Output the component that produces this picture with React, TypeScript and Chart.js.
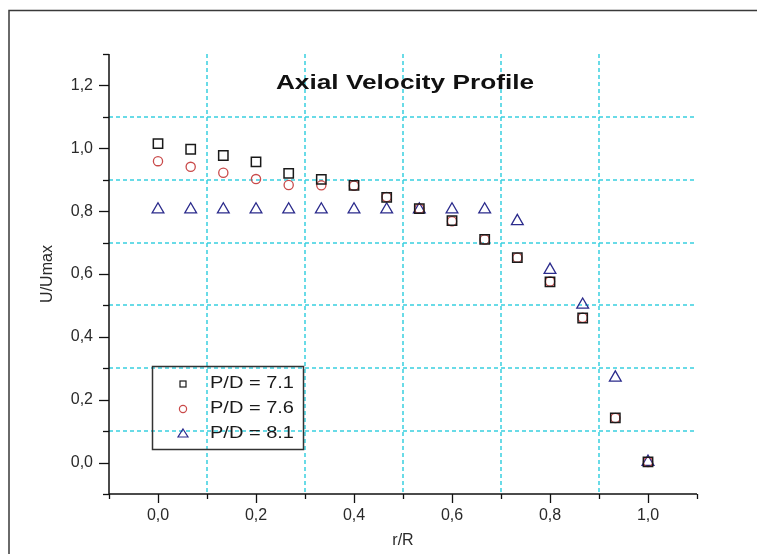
import { useEffect, useRef } from "react";
import { Chart, registerables } from "chart.js";

Chart.register(...registerables);

// ---- data ----
const rOverR = [0, 0.0667, 0.1333, 0.2, 0.2667, 0.3333, 0.4, 0.4667, 0.5333, 0.6, 0.6667, 0.7333, 0.8, 0.8667, 0.9333, 1.0];
const pd71 = [1.015, 0.997, 0.977, 0.957, 0.92, 0.901, 0.882, 0.844, 0.808, 0.77, 0.71, 0.652, 0.575, 0.46, 0.142, 0.002];
const pd76 = [0.959, 0.941, 0.922, 0.902, 0.883, 0.882, 0.881, 0.845, 0.808, 0.768, 0.71, 0.652, 0.576, 0.461, 0.142, 0.002];
const pd81 = [0.805, 0.805, 0.805, 0.805, 0.805, 0.805, 0.805, 0.805, 0.805, 0.805, 0.805, 0.768, 0.613, 0.502, 0.27, 0.002];
const seriesLabels = ["P/D = 7.1", "P/D = 7.6", "P/D = 8.1"];
const xTickValues = [-0.1, 0, 0.1, 0.2, 0.3, 0.4, 0.5, 0.6, 0.7, 0.8, 0.9, 1.0, 1.1];
const yTickValues = [-0.1, 0, 0.1, 0.2, 0.3, 0.4, 0.5, 0.6, 0.7, 0.8, 0.9, 1.0, 1.1, 1.2, 1.3];
const chartTitle = "Axial Velocity Profile";
const xAxisTitle = "r/R";
const yAxisTitle = "U/Umax";

const FONT = "'Liberation Sans', Arial, sans-serif";
const GRID = "#38d0e0";
const C_SQ = "#1a1a1a";
const C_CI = "#c94a4a";
const C_TR = "#2b2b8c";

const fmt = (v: number, maxT: number) => {
  const t = Math.round(v * 10);
  if (t % 2 !== 0 || t < 0 || t > maxT) return "";
  return (t / 10).toFixed(1).replace(".", ",");
};

const decorPlugin = {
  id: "decor",
  beforeDraw(chart: any) {
    const ctx = chart.ctx;
    ctx.save();
    ctx.strokeStyle = "#3a3a3a";
    ctx.lineWidth = 1.5;
    ctx.strokeRect(9, 10.5, 900, 700);
    ctx.restore();
  },
  beforeDatasetsDraw(chart: any) {
    const ctx = chart.ctx;
    const xs = chart.scales.x;
    const ys = chart.scales.y;
    const { left, right, top, bottom } = chart.chartArea;
    ctx.save();
    // dashed minor grid
    ctx.strokeStyle = GRID;
    ctx.lineWidth = 1.5;
    ctx.setLineDash([4, 3]);
    xTickValues.forEach((v) => {
      const t = Math.round(v * 10);
      if (t % 2 === 0 || t <= -1 || t >= 11) return;
      const px = Math.round(xs.getPixelForValue(v));
      ctx.beginPath();
      ctx.moveTo(px, top);
      ctx.lineTo(px, bottom);
      ctx.stroke();
    });
    yTickValues.forEach((v) => {
      const t = Math.round(v * 10);
      if (t % 2 === 0 || t <= -1 || t >= 13) return;
      const py = Math.round(ys.getPixelForValue(v));
      ctx.beginPath();
      ctx.moveTo(left, py);
      ctx.lineTo(right, py);
      ctx.stroke();
    });
    ctx.setLineDash([]);
    // axes
    ctx.strokeStyle = "#111";
    ctx.lineWidth = 1.5;
    ctx.beginPath();
    ctx.moveTo(left, top);
    ctx.lineTo(left, bottom);
    ctx.lineTo(right, bottom);
    ctx.stroke();
    // ticks
    ctx.lineWidth = 1.3;
    xTickValues.forEach((v) => {
      const t = Math.round(v * 10);
      const len = t % 2 === 0 ? 9 : 5;
      const px = Math.round(xs.getPixelForValue(v)) + 0.5;
      ctx.beginPath();
      ctx.moveTo(px, bottom);
      ctx.lineTo(px, bottom + len);
      ctx.stroke();
    });
    yTickValues.forEach((v) => {
      const t = Math.round(v * 10);
      const len = t % 2 === 0 ? 10 : 6;
      const py = Math.round(ys.getPixelForValue(v)) + 0.5;
      ctx.beginPath();
      ctx.moveTo(left - len, py);
      ctx.lineTo(left, py);
      ctx.stroke();
    });
    ctx.restore();
  },
  afterDraw(chart: any) {
    const ctx = chart.ctx;
    const { left, right, top } = chart.chartArea;
    ctx.save();
    // title
    ctx.fillStyle = "#111";
    ctx.font = `bold 21px ${FONT}`;
    ctx.textAlign = "center";
    ctx.textBaseline = "middle";
    ctx.translate((left + right) / 2 + 2, top + 29);
    ctx.scale(1.25, 1);
    ctx.fillText(chartTitle, 0, 0);
    ctx.restore();

    // legend
    ctx.save();
    ctx.strokeStyle = "#333";
    ctx.lineWidth = 1.5;
    ctx.strokeRect(152.5, 366.5, 151, 83);
    const rows = [384, 409, 434];
    const sx = 183;
    ctx.lineWidth = 1.2;
    ctx.strokeStyle = C_SQ;
    ctx.strokeRect(sx - 3, rows[0] - 3, 6, 6);
    ctx.strokeStyle = C_CI;
    ctx.beginPath();
    ctx.arc(sx, rows[1], 3.6, 0, Math.PI * 2);
    ctx.stroke();
    ctx.strokeStyle = C_TR;
    ctx.beginPath();
    ctx.moveTo(sx, rows[2] - 5);
    ctx.lineTo(sx + 5, rows[2] + 3);
    ctx.lineTo(sx - 5, rows[2] + 3);
    ctx.closePath();
    ctx.stroke();
    ctx.fillStyle = "#1a1a1a";
    ctx.font = `16px ${FONT}`;
    ctx.textAlign = "left";
    ctx.textBaseline = "middle";
    seriesLabels.forEach((lab, i) => {
      ctx.save();
      ctx.translate(210, rows[i]);
      ctx.scale(1.25, 1);
      ctx.fillText(lab, 0, 0);
      ctx.restore();
    });
    ctx.restore();
  },
};

export default function App() {
  const ref = useRef<HTMLCanvasElement | null>(null);
  useEffect(() => {
    if (!ref.current) return;
    const mk = (arr: number[]) => rOverR.map((x, i) => ({ x, y: arr[i] }));
    const chart = new Chart(ref.current, {
      type: "scatter",
      data: {
        datasets: [
          {
            label: seriesLabels[0],
            data: mk(pd71),
            pointStyle: "rect",
            pointRadius: 6.6,
            borderColor: C_SQ,
            backgroundColor: "rgba(0,0,0,0)",
            borderWidth: 1.5,
          },
          {
            label: seriesLabels[1],
            data: mk(pd76),
            pointStyle: "circle",
            pointRadius: 4.6,
            borderColor: C_CI,
            backgroundColor: "rgba(0,0,0,0)",
            borderWidth: 1.3,
          },
          {
            label: seriesLabels[2],
            data: mk(pd81),
            pointStyle: "triangle",
            pointRadius: 6.8,
            borderColor: C_TR,
            backgroundColor: "rgba(0,0,0,0)",
            borderWidth: 1.3,
          },
        ],
      },
      options: {
        animation: false,
        responsive: false,
        devicePixelRatio: 1,
        layout: { padding: { top: 54, right: 60, left: 0, bottom: 0 } },
        plugins: {
          legend: { display: false },
          title: { display: false },
          tooltip: { enabled: false },
        },
        scales: {
          x: {
            type: "linear",
            min: -0.1,
            max: 1.1,
            afterBuildTicks: (s: any) => {
              s.ticks = xTickValues.map((v) => ({ value: v }));
            },
            afterFit: (s: any) => {
              s.height = 60;
            },
            grid: { display: false, drawTicks: false },
            border: { display: false },
            ticks: {
              autoSkip: false,
              maxRotation: 0,
              padding: 12,
              color: "#2a2a2a",
              font: { family: FONT, size: 16 },
              callback: (v: any) => fmt(Number(v), 10),
            },
            title: {
              display: true,
              text: xAxisTitle,
              color: "#2a2a2a",
              font: { family: FONT, size: 16 },
              padding: { top: 0, bottom: 4 },
            },
          },
          y: {
            type: "linear",
            min: -0.1,
            max: 1.3,
            afterBuildTicks: (s: any) => {
              s.ticks = yTickValues.map((v) => ({ value: v }));
            },
            afterFit: (s: any) => {
              s.width = 109;
            },
            grid: { display: false, drawTicks: false },
            border: { display: false },
            ticks: {
              autoSkip: false,
              padding: 16,
              color: "#2a2a2a",
              font: { family: FONT, size: 16 },
              callback: (v: any) => fmt(Number(v), 12),
            },
            title: {
              display: true,
              text: yAxisTitle,
              color: "#2a2a2a",
              font: { family: FONT, size: 16 },
              padding: { top: 38, bottom: 0 },
            },
          },
        },
      },
      plugins: [decorPlugin],
    } as any);
    return () => chart.destroy();
  }, []);
  return (
    <div style={{ position: "fixed", left: 0, top: 0, width: 757, height: 554, background: "#fff" }}>
      <canvas ref={ref} width={757} height={554} style={{ display: "block" }} />
    </div>
  );
}
